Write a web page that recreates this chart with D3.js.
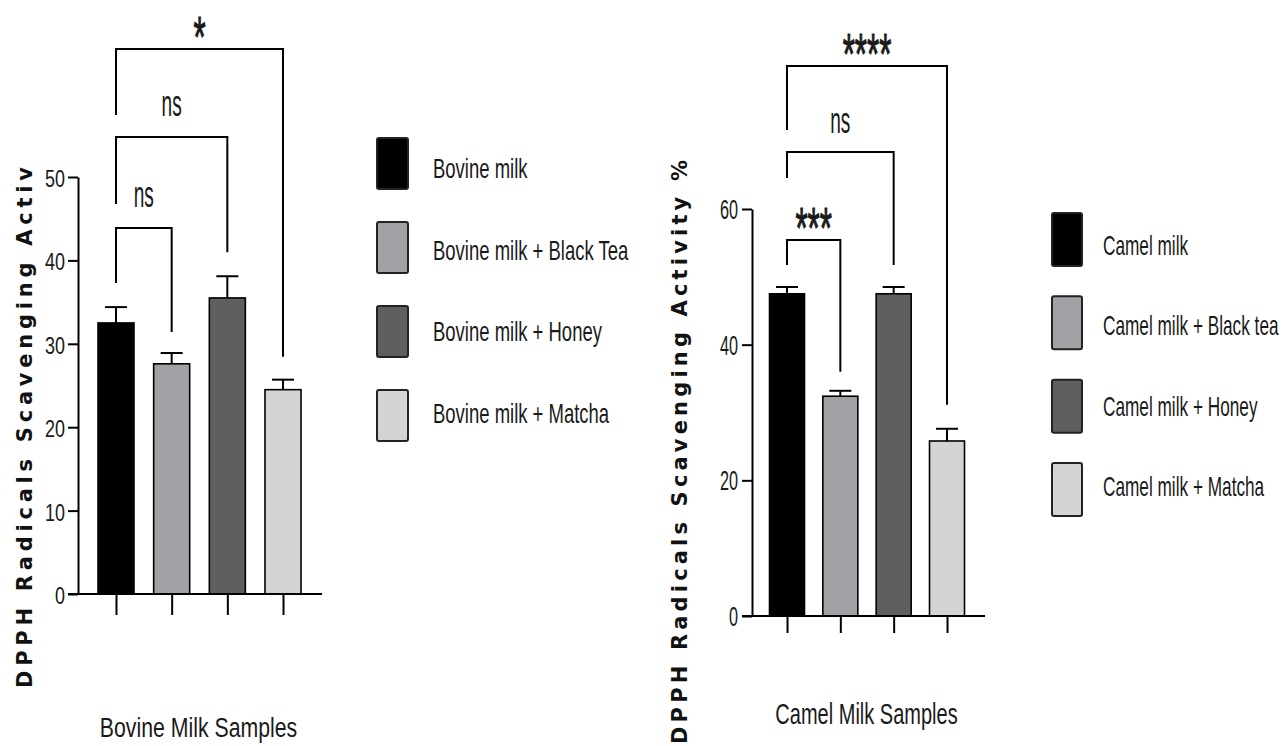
<!DOCTYPE html>
<html><head><meta charset="utf-8">
<script src="https://cdn.jsdelivr.net/npm/d3@7"></script>
<style>body{margin:0;background:#fff}svg{display:block}</style>
</head><body><svg id="c" width="1284" height="746"></svg>
<script>
// ---------- data ----------
const bovineCategories = ["Bovine milk", "Bovine milk + Black Tea", "Bovine milk + Honey", "Bovine milk + Matcha"];
const bovineMeans = [32.5, 27.6, 35.5, 24.5];
const bovineErrors = [1.9, 1.3, 2.6, 1.2];
const bovineSignificance = ["ns", "ns", "*"];
const bovineTicks = [0, 10, 20, 30, 40, 50];

const camelCategories = ["Camel milk", "Camel milk + Black tea", "Camel milk + Honey", "Camel milk + Matcha"];
const camelMeans = [47.5, 32.4, 47.5, 25.8];
const camelErrors = [1.0, 0.8, 1.0, 1.8];
const camelSignificance = ["***", "ns", "****"];
const camelTicks = [0, 20, 40, 60];

const fills = ["#000000", "#a2a1a6", "#5f5f5f", "#d4d4d4"];

// ---------- helpers ----------
const svg = d3.select("#c");
const NARROW = "'Liberation Sans', Arial, sans-serif";

// tall, narrow text: glyph height of `size`, width scaled by k
function condensed(g, str, x, baseline, size, k, anchor) {
  return g.append("text")
    .attr("font-family", NARROW).attr("font-size", size * k)
    .attr("text-anchor", anchor)
    .attr("transform", `translate(${x},${baseline}) scale(1,${1 / k})`)
    .attr("fill", "#1a1a1a").text(str);
}

function drawChart(c) {
  const g = svg.append("g");
  const y = d3.scaleLinear().domain(c.yDomain).range(c.yRange);
  const x = d3.scalePoint().domain(c.categories).range(c.xRange);
  const top = c.means.map((m, i) => m + c.errors[i]);

  // error bars (upper half)
  const eb = g.append("g").attr("stroke", "#000").attr("stroke-width", 2);
  eb.selectAll("line.v").data(c.categories).join("line")
    .attr("x1", d => x(d)).attr("x2", d => x(d))
    .attr("y1", (d, i) => y(c.means[i])).attr("y2", (d, i) => y(top[i]));
  eb.selectAll("line.h").data(c.categories).join("line")
    .attr("x1", d => x(d) - 11).attr("x2", d => x(d) + 11)
    .attr("y1", (d, i) => y(top[i])).attr("y2", (d, i) => y(top[i]));

  // bars
  g.selectAll("rect.bar").data(c.categories).join("rect")
    .attr("x", d => x(d) - c.barW / 2)
    .attr("y", (d, i) => y(c.means[i]))
    .attr("width", c.barW)
    .attr("height", (d, i) => y(0) - y(c.means[i]))
    .attr("fill", (d, i) => fills[i])
    .attr("stroke", "#000").attr("stroke-width", 1.6);

  // y axis
  const ya = g.append("g").attr("transform", `translate(${c.axisX},0)`)
    .call(d3.axisLeft(y).tickValues(c.ticks).tickSize(10).tickSizeOuter(0).tickFormat(""));
  ya.selectAll("path,line").attr("stroke", "#000").attr("stroke-width", 2);
  c.ticks.forEach(t => condensed(g, String(t), c.tickLabelRight, y(t) + c.tickBaseOff, c.tickSize, c.tickK, "end"));

  // x axis
  g.append("line").attr("x1", c.xAxisStart).attr("x2", c.xAxisEnd)
    .attr("y1", y(0)).attr("y2", y(0)).attr("stroke", "#000").attr("stroke-width", 2);
  const xa = g.append("g").attr("transform", `translate(0,${y(0)})`)
    .call(d3.axisBottom(x).tickSize(c.xTickLen).tickSizeOuter(0).tickFormat(""));
  xa.select(".domain").remove();
  xa.selectAll("line").attr("stroke", "#000").attr("stroke-width", 2);

  // significance brackets
  const br = g.append("g").attr("fill", "none").attr("stroke", "#000").attr("stroke-width", 2);
  c.significance.forEach((lab, k) => {
    const x1 = x(c.categories[0]), x2 = x(c.categories[k + 1]);
    const by = c.bracketY[k];
    const lb = by + c.leftLeg[k];
    const rb = y(top[k + 1]) - c.rightGap[k];
    br.append("path").attr("d", `M${x1},${lb}V${by}H${x2}V${rb}`);
    const mid = (x1 + x2) / 2;
    if (lab === "ns") condensed(g, lab, mid, by - c.nsGap, 36, 0.53, "middle");
    else condensed(g, lab, mid, by + 8, 58, 0.54, "middle").attr("stroke", "#1a1a1a").attr("stroke-width", 0.6);
  });

  // axis titles
  condensed(g, c.xTitle, c.xTitleX, c.xTitleBase, c.xTitleSize, c.xTitleK, "middle");
  g.append("text")
    .attr("transform", `translate(${c.yTitleX},${c.yTitleStart}) rotate(-90)`)
    .attr("font-family", "'DejaVu Sans', Verdana, sans-serif").attr("font-weight", "bold")
    .attr("font-size", 21).attr("fill", "#111")
    .attr("textLength", c.yTitleLen).attr("lengthAdjust", "spacing")
    .text(c.yTitle);

  // legend
  const sq = d3.scaleLinear().domain([0, 3]).range(c.legSq);
  const tb = d3.scaleLinear().domain([0, 3]).range(c.legBase);
  c.categories.forEach((name, i) => {
    g.append("rect").attr("x", c.legX).attr("y", sq(i)).attr("width", c.legW).attr("height", c.legH)
      .attr("rx", 2).attr("fill", fills[i]).attr("stroke", "#222").attr("stroke-width", 2);
    condensed(g, name, c.legTextX, tb(i), 28, c.legK, "start");
  });
}

drawChart({
  categories: bovineCategories, means: bovineMeans, errors: bovineErrors,
  significance: bovineSignificance, ticks: bovineTicks,
  yDomain: [0, 50], yRange: [594, 177], xRange: [116, 283], barW: 36,
  axisX: 78, xAxisStart: 68, xAxisEnd: 322, xTickLen: 21,
  tickLabelRight: 65, tickBaseOff: 10, tickSize: 23, tickK: 0.78,
  bracketY: [228, 137, 49], leftLeg: [55, 67, 66], rightGap: [21, 24, 23], nsGap: 21,
  xTitle: "Bovine Milk Samples", xTitleX: 198.5, xTitleBase: 737, xTitleSize: 28, xTitleK: 0.76,
  yTitle: "DPPH Radicals Scavenging Activ", yTitleX: 32, yTitleStart: 688, yTitleLen: 521,
  legX: 377, legW: 31, legH: 51, legSq: [138, 390], legBase: [178, 423], legTextX: 433, legK: 0.66
});

drawChart({
  categories: camelCategories, means: camelMeans, errors: camelErrors,
  significance: camelSignificance, ticks: camelTicks,
  yDomain: [0, 60], yRange: [616, 209], xRange: [787, 947], barW: 35,
  axisX: 752, xAxisStart: 742, xAxisEnd: 985, xTickLen: 17,
  tickLabelRight: 738, tickBaseOff: 10, tickSize: 28, tickK: 0.58,
  bracketY: [240, 152, 66], leftLeg: [25, 26, 64], rightGap: [19, 22, 24], nsGap: 19,
  xTitle: "Camel Milk Samples", xTitleX: 866.5, xTitleBase: 724, xTitleSize: 29, xTitleK: 0.69,
  yTitle: "DPPH Radicals Scavenging Activity %", yTitleX: 687, yTitleStart: 744, yTitleLen: 584,
  legX: 1052, legW: 30, legH: 53, legSq: [213, 463], legBase: [255, 496], legTextX: 1103, legK: 0.615
});
</script>
</body></html>
